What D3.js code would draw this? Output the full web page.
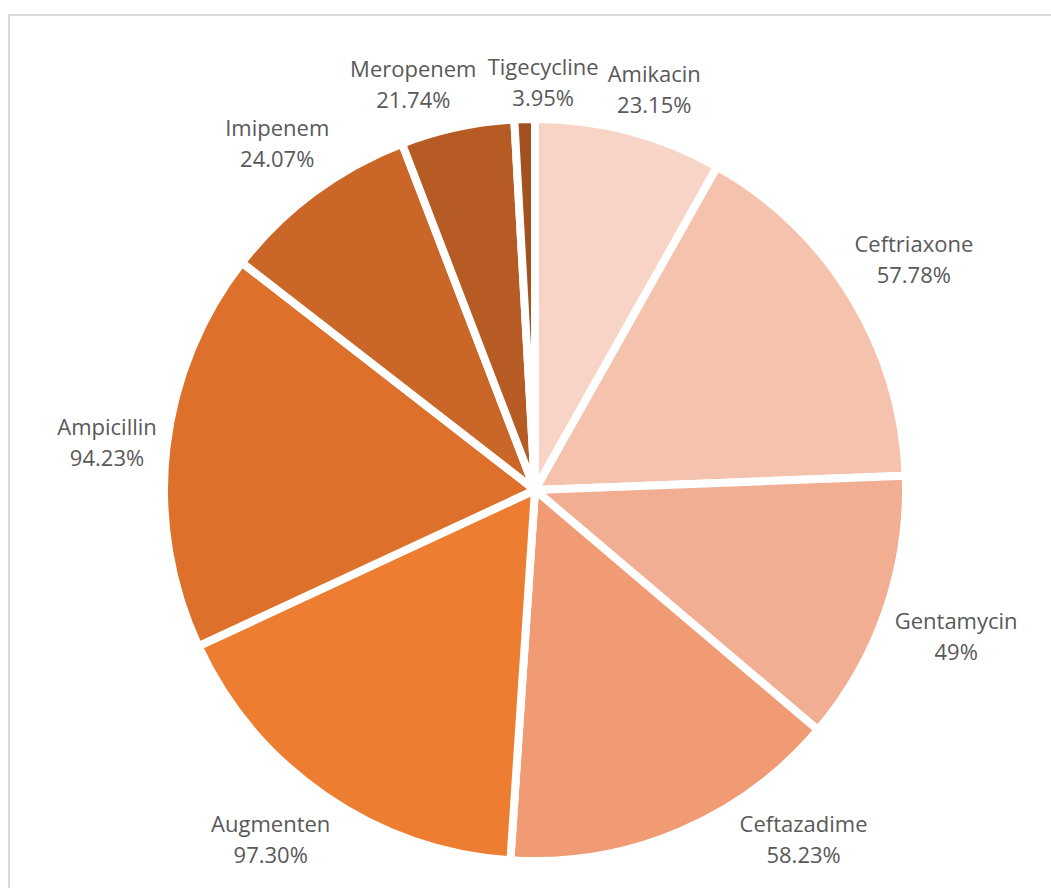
<!DOCTYPE html>
<html>
<head>
<meta charset="utf-8">
<script src="https://cdn.jsdelivr.net/npm/d3@7"></script>
<style>
  body { margin: 0; background: #fff; }
  text { font-family: "Open Sans", sans-serif; }
</style>
</head>
<body>
<div id="chart"></div>
<script>
// drug names, clockwise from 12 o'clock
var drugs = ["Amikacin", "Ceftriaxone", "Gentamycin", "Ceftazadime", "Augmenten",
             "Ampicillin", "Imipenem", "Meropenem", "Tigecycline"];
// slice sizes (degrees of the pie)
var sliceValues = [29.4, 58.4, 42.5, 53.5, 61.3, 62.7, 31.2, 17.8, 3.2];
// percentage labels as printed
var pctLabels = ["23.15%", "57.78%", "49%", "58.23%", "97.30%", "94.23%", "24.07%", "21.74%", "3.95%"];
var colors = ["#F8D4C6", "#F5C2AD", "#F2AE93", "#F09B74", "#ED7D31",
              "#DD712C", "#CA6728", "#B65B23", "#A3521F"];

var width = 1051, height = 888;
var cx = 535, cy = 490, R = 371;

var svg = d3.select("#chart")
  .append("svg")
  .attr("width", width)
  .attr("height", height);

// chart area frame (runs off the right and bottom)
svg.append("rect")
  .attr("x", 9).attr("y", 15)
  .attr("width", 1200).attr("height", 1000)
  .attr("fill", "none")
  .attr("stroke", "#d9d9d9")
  .attr("stroke-width", 2);

var pie = d3.pie().sort(null).value(function(d) { return d; });
var arcs = pie(sliceValues);
var arc = d3.arc().innerRadius(0).outerRadius(R);

var g = svg.append("g").attr("transform", "translate(" + cx + "," + cy + ")");

g.selectAll("path")
  .data(arcs)
  .enter()
  .append("path")
  .attr("d", arc)
  .attr("fill", function(d, i) { return colors[i]; })
  .attr("stroke", "#fff")
  .attr("stroke-width", 8)
  .attr("stroke-linejoin", "round");

// labels: two lines, placed just outside the pie
var lineGap = 31;
var labels = g.selectAll("text.lbl")
  .data(arcs)
  .enter()
  .append("text")
  .attr("class", "lbl")
  .attr("text-anchor", "middle")
  .attr("fill", "#595959")
  .style("font-size", "22px");

labels.append("tspan").attr("class", "n")
  .attr("x", 0).attr("y", -lineGap / 2).attr("dominant-baseline", "central")
  .text(function(d, i) { return drugs[i]; });
labels.append("tspan").attr("class", "p")
  .attr("x", 0).attr("y", lineGap / 2).attr("dominant-baseline", "central")
  .text(function(d, i) { return pctLabels[i]; });

var visR = R - 4, gap = 11, boxH = 58, bottomLimit = 868 - cy;

var info = [];
labels.each(function(d) {
  var w = this.getBBox().width;
  info.push({ a: (d.startAngle + d.endAngle) / 2, w: w, h: boxH });
});

function place(o) {
  var s = Math.sin(o.a), c = Math.cos(o.a);
  var r = visR + gap + (o.w / 2) * Math.abs(s) + (o.h / 2) * Math.abs(c);
  o.x = r * s;
  o.y = -r * c;
}

function overlap(p, q) {
  return Math.abs(p.x - q.x) < (p.w + q.w) / 2 + 8 && Math.abs(p.y - q.y) < (p.h + q.h) / 2;
}

var step = 0.004;
for (var it = 0; it < 600; it++) {
  info.forEach(place);
  var moved = false;
  for (var i = 0; i < info.length; i++) {
    var p = info[i], q = info[(i + 1) % info.length];
    if (overlap(p, q)) { p.a -= step; q.a += step; moved = true; }
    // keep the block inside the chart area
    if (p.y + p.h / 2 > bottomLimit) {
      p.a += (p.a < Math.PI ? -step : step);
      moved = true;
    }
  }
  if (!moved) break;
}
info.forEach(place);

labels.attr("transform", function(d, i) {
  return "translate(" + info[i].x + "," + info[i].y + ")";
});
</script>
</body>
</html>
